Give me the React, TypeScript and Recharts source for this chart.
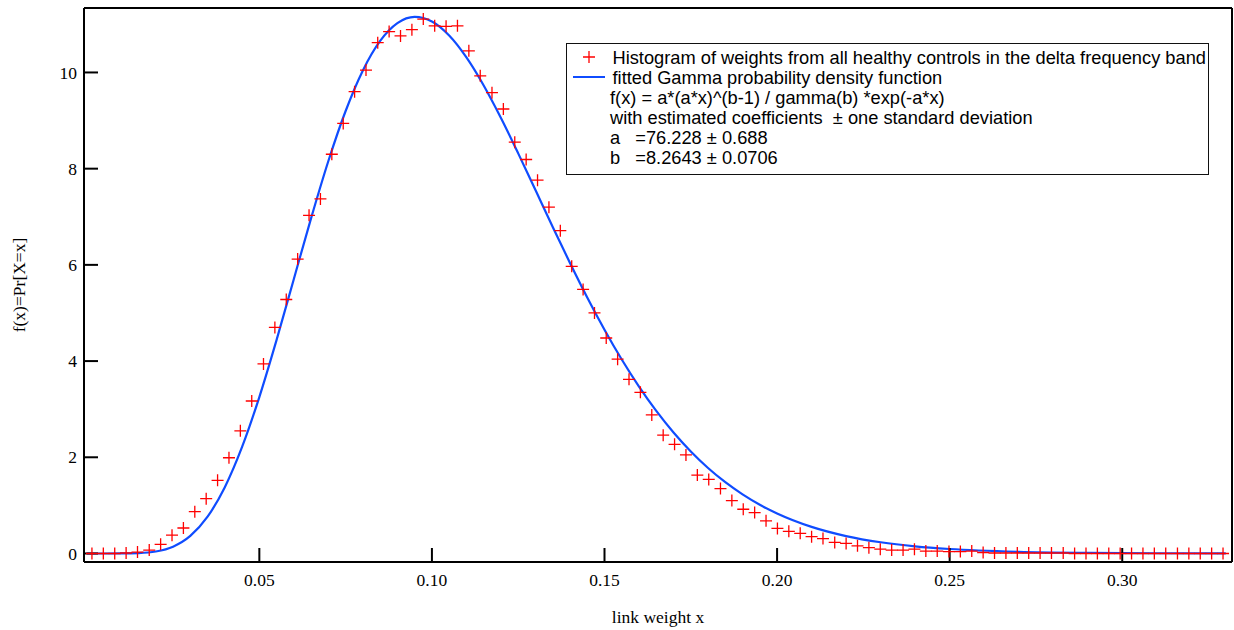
import { ComposedChart, Legend, Line, Scatter, XAxis, YAxis } from "recharts";

// histogram bin centres (link weight) and normalised counts
const binX = [
  0.0015, 0.0048, 0.0081, 0.0114, 0.0147, 0.0181, 0.0214, 0.0247, 0.028, 0.0313,
  0.0346, 0.0379, 0.0412, 0.0445, 0.0478, 0.0512, 0.0545, 0.0578, 0.0611, 0.0644,
  0.0677, 0.071, 0.0743, 0.0776, 0.0809, 0.0843, 0.0876, 0.0909, 0.0942, 0.0975,
  0.1008, 0.1041, 0.1074, 0.1107, 0.114, 0.1174, 0.1207, 0.124, 0.1273, 0.1306,
  0.1339, 0.1372, 0.1405, 0.1438, 0.1471, 0.1505, 0.1538, 0.1571, 0.1604, 0.1637,
  0.167, 0.1703, 0.1736, 0.1769, 0.1802, 0.1836, 0.1869, 0.1902, 0.1935, 0.1968,
  0.2001, 0.2034, 0.2067, 0.21, 0.2133, 0.2167, 0.22, 0.2233, 0.2266, 0.2299,
  0.2332, 0.2365, 0.2398, 0.2431, 0.2464, 0.2498, 0.2531, 0.2564, 0.2597, 0.263,
  0.2663, 0.2696, 0.2729, 0.2762, 0.2795, 0.2829, 0.2862, 0.2895, 0.2928, 0.2961,
  0.2994, 0.3027, 0.306, 0.3093, 0.3126, 0.316, 0.3193, 0.3226, 0.3259, 0.3292,
];

const histY = [
  0.0, 0.0, 0.0, 0.01, 0.03, 0.07, 0.19, 0.38, 0.53, 0.87,
  1.14, 1.52, 1.99, 2.55, 3.17, 3.94, 4.7, 5.28, 6.12, 7.03,
  7.37, 8.3, 8.94, 9.6, 10.05, 10.62, 10.85, 10.76, 10.89, 11.11,
  10.97, 10.96, 10.97, 10.45, 9.93, 9.58, 9.24, 8.55, 8.19, 7.76,
  7.2, 6.71, 5.97, 5.49, 5.0, 4.48, 4.04, 3.62, 3.35, 2.88,
  2.46, 2.27, 2.05, 1.63, 1.54, 1.35, 1.1, 0.92, 0.85, 0.68,
  0.52, 0.46, 0.42, 0.35, 0.31, 0.23, 0.21, 0.16, 0.12, 0.09,
  0.07, 0.07, 0.09, 0.05, 0.05, 0.04, 0.04, 0.05, 0.02, 0.01,
  0.01, 0.01, 0.01, 0.01, 0.01, 0.01, 0.0, 0.0, 0.0, 0.0,
  0.0, 0.0, 0.0, 0.0, 0.0, 0.0, 0.0, 0.0, 0.0, 0.0,
];

// fitted gamma pdf, sampled
const fitX = [
  0, 0.005, 0.01, 0.015, 0.02, 0.025, 0.03, 0.035, 0.04, 0.045,
  0.05, 0.055, 0.06, 0.065, 0.07, 0.075, 0.08, 0.085, 0.09, 0.095,
  0.1, 0.105, 0.11, 0.115, 0.12, 0.125, 0.13, 0.135, 0.14, 0.145,
  0.15, 0.155, 0.16, 0.165, 0.17, 0.175, 0.18, 0.185, 0.19, 0.195,
  0.2, 0.21, 0.22, 0.23, 0.24, 0.25, 0.27, 0.29, 0.31, 0.33,
];

const fitY = [
  0, 0.0, 0.0006, 0.0075, 0.041, 0.142, 0.365, 0.765, 1.378, 2.215,
  3.252, 4.44, 5.707, 6.972, 8.159, 9.199, 10.042, 10.655, 11.025, 11.154,
  11.059, 10.767, 10.312, 9.729, 9.053, 8.318, 7.555, 6.789, 6.04, 5.323,
  4.652, 4.032, 3.469, 2.963, 2.514, 2.12, 1.777, 1.481, 1.228, 1.013,
  0.832, 0.553, 0.362, 0.233, 0.148, 0.093, 0.035, 0.013, 0.0046, 0.0016,
];

const xTicks = [0.05, 0.1, 0.15, 0.2, 0.25, 0.3];
const yTicks = [0, 2, 4, 6, 8, 10];

const histData = binX.map((x, i) => ({ x, y: histY[i] }));
const fitData = fitX.map((x, i) => ({ x, y: fitY[i] }));

const RED = "#ff0000";
const BLUE = "#0f4cff";
const serif = '"Liberation Serif", "Times New Roman", serif';
const sans = '"Liberation Sans", Arial, sans-serif';

const frame = { stroke: "#000", strokeWidth: 2 };
const tickFont = { fill: "#000", fontSize: 17.5, fontFamily: serif };

function Cross(props: any) {
  const { cx, cy } = props;
  if (cx == null || cy == null) return null;
  return (
    <path
      d={`M${cx - 6},${cy}H${cx + 6}M${cx},${cy - 6}V${cy + 6}`}
      stroke={RED}
      strokeWidth={1.3}
      fill="none"
    />
  );
}

function FitLegend() {
  const row = { height: 20, lineHeight: "20px", whiteSpace: "pre" as const };
  return (
    <div
      style={{
        width: 641,
        height: 126,
        border: "1.5px solid #111",
        background: "#fff",
        paddingTop: 4.5,
        fontFamily: sans,
        fontSize: 18.25,
        color: "#000",
        position: "relative",
      }}
    >
      <div style={{ ...row, position: "relative", paddingLeft: 45.5 }}>
        <svg width={14} height={14} style={{ position: "absolute", left: 14.5, top: 2 }}>
          <path d="M1,7H13M7,1V13" stroke={RED} strokeWidth={1.3} />
        </svg>
        Histogram of weights from all healthy controls in the delta frequency band
      </div>
      <div style={{ ...row, position: "relative", paddingLeft: 45.5 }}>
        <div
          style={{
            position: "absolute",
            left: 5.5,
            top: 8,
            width: 32,
            height: 2,
            background: BLUE,
          }}
        />
        fitted Gamma probability density function
      </div>
      <div style={{ ...row, paddingLeft: 43 }}>f(x) = a*(a*x)^(b-1) / gamma(b) *exp(-a*x)</div>
      <div style={{ ...row, paddingLeft: 43 }}>with estimated coefficients  ± one standard deviation</div>
      <div style={{ ...row, paddingLeft: 43 }}>
        <span style={{ display: "inline-block", width: 25.3 }}>a</span>=76.228 ± 0.688
      </div>
      <div style={{ ...row, paddingLeft: 43 }}>
        <span style={{ display: "inline-block", width: 25.3 }}>b</span>=8.2643 ± 0.0706
      </div>
    </div>
  );
}

export default function App() {
  return (
    <div style={{ position: "absolute", left: 0, top: 0, background: "#fff" }}>
      <ComposedChart
        width={1234}
        height={630}
        margin={{ top: 7, right: 1, bottom: 0, left: 0 }}
      >
        <XAxis
          xAxisId={0}
          type="number"
          dataKey="x"
          domain={[-0.0008, 0.3318]}
          allowDataOverflow
          ticks={xTicks}
          interval={0}
          tickFormatter={(v: number) => v.toFixed(2)}
          tickSize={-14}
          tickMargin={26}
          height={68}
          axisLine={frame}
          tickLine={frame}
          tick={tickFont}
          label={{
            value: "link weight x",
            position: "insideBottom",
            offset: 7,
            fill: "#000",
            fontSize: 17.5,
            fontFamily: serif,
          }}
        />
        <XAxis
          xAxisId="top"
          orientation="top"
          type="number"
          dataKey="x"
          domain={[-0.0008, 0.3318]}
          allowDataOverflow
          ticks={xTicks}
          interval={0}
          tickSize={-14}
          height={1}
          axisLine={frame}
          tickLine={frame}
          tick={false}
        />
        <YAxis
          yAxisId={0}
          type="number"
          domain={[-0.177, 11.34]}
          allowDataOverflow
          ticks={yTicks}
          interval={0}
          width={84}
          tickSize={-14}
          tickMargin={21}
          axisLine={frame}
          tickLine={frame}
          tick={tickFont}
          label={{
            value: "f(x)=Pr[X=x]",
            angle: -90,
            position: "insideLeft",
            offset: 19,
            fill: "#000",
            fontSize: 17.5,
            fontFamily: serif,
            style: { textAnchor: "middle" },
          }}
        />
        <YAxis
          yAxisId="right"
          orientation="right"
          type="number"
          domain={[-0.177, 11.34]}
          allowDataOverflow
          ticks={yTicks}
          interval={0}
          width={1}
          tickSize={-14}
          axisLine={frame}
          tickLine={frame}
          tick={false}
        />
        <Line
          data={fitData}
          dataKey="y"
          type="monotone"
          stroke={BLUE}
          strokeWidth={2.2}
          dot={false}
          activeDot={false}
          isAnimationActive={false}
        />
        <Scatter
          data={histData}
          dataKey="y"
          shape={Cross}
          isAnimationActive={false}
        />
        <Legend
          verticalAlign="middle"
          align="center"
          layout="horizontal"
          content={() => <FitLegend />}
          wrapperStyle={{ left: 566, top: 42.7, width: 644, height: 130 }}
        />
      </ComposedChart>
    </div>
  );
}
